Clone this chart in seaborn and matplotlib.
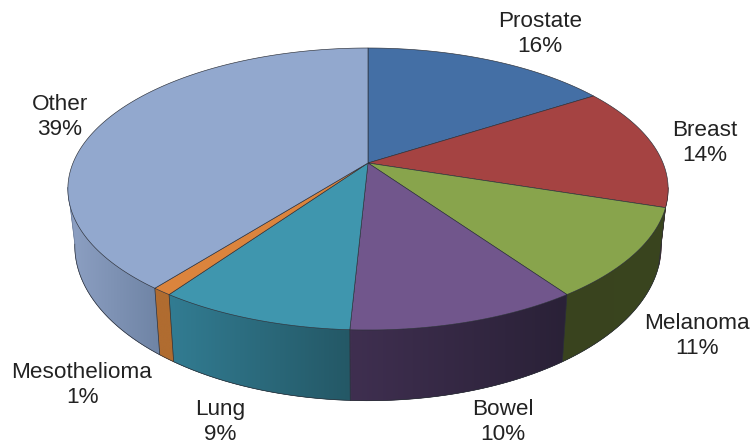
import numpy as np
import matplotlib
matplotlib.use("Agg")
import matplotlib.pyplot as plt
from matplotlib.patches import Polygon
import seaborn as sns

categories = ["Prostate", "Breast", "Melanoma", "Bowel", "Lung", "Mesothelioma", "Other"]
shares = [15.9, 14.1, 10.3, 10.5, 8.9, 0.9, 39.4]
pct_labels = ["16%", "14%", "11%", "10%", "9%", "1%", "39%"]
top_colors = ["#446FA5", "#A54342", "#88A44C", "#71568C", "#3F96AE", "#DB843D", "#92A8CE"]
wall_right = ["#3A5F8E", "#70302F", "#3A451F", "#2A2137", "#245866", "#B06C30", "#6F84A5"]
wall_left = ["#3A5F8E", "#70302F", "#39431E", "#3F2F50", "#327C92", "#B06C30", "#8DA0C3"]
label_x = [540, 705, 697, 503, 220, 82, 60]
label_y = [34, 143, 336, 422, 422, 385, 117]

sns.set_theme(style="white")
plt.rcParams["font.family"] = ["Liberation Sans", "DejaVu Sans"]

CX, CY, RX, RY, K = 368.0, 163.0, 295.0, 136.2, 0.1844
WALL_FROM, WALL_TO = np.deg2rad(100), np.deg2rad(260)


def project(theta, base=False):
    """Perspective view of a disc; theta runs clockwise from the far side."""
    x, y = np.sin(theta), np.cos(theta)
    w = 1 + K * y
    if base:
        return CX + 0.977 * RX * x / w, CY + 54 - 1.10 * RY * y / w
    return CX + RX * x / w, CY - RY * y / w


fig = plt.figure(figsize=(7.51, 4.46), dpi=100)
ax = fig.add_axes([0, 0, 1, 1])
ax.axis("off")

edges = np.deg2rad(np.cumsum([0] + shares) * 3.6)
edge_col = "#2b2f38"

# side wall: one horizontal colour ramp per slice, clipped to the visible wall
for i in range(len(shares)):
    lo, hi = max(edges[i], WALL_FROM), min(edges[i + 1], WALL_TO)
    if hi <= lo:
        continue
    t = np.linspace(lo, hi, 150)
    tx, ty = project(t)
    bx, by = project(t, base=True)
    xs = np.r_[tx, bx[::-1]]
    ys = np.r_[ty, by[::-1]]
    shape = Polygon(np.c_[xs, ys], closed=True, facecolor=wall_right[i],
                    edgecolor=wall_right[i], lw=0.3, zorder=2)
    ax.add_patch(shape)
    ramp = np.array(sns.blend_palette([wall_left[i], wall_right[i]], 64))[None, :, :]
    img = ax.imshow(ramp, extent=(xs.min(), xs.max(), ys.max(), ys.min()),
                    aspect="auto", interpolation="bilinear", zorder=2.1)
    img.set_clip_path(shape)

t = np.linspace(WALL_FROM, WALL_TO, 300)
bx, by = project(t, base=True)
ax.plot(bx, by, color=edge_col, lw=0.5, zorder=3)
tx, ty = project(WALL_TO)
bx, by = project(WALL_TO, base=True)
ax.plot([tx, bx], [ty, by], color="#6f7f9c", lw=0.5, zorder=3)
for e in edges[2:-1]:
    tx, ty = project(e)
    bx, by = project(e, base=True)
    ax.plot([tx, bx], [ty, by], color=edge_col, lw=0.5, zorder=3)

# top face
for i in range(len(shares)):
    t = np.linspace(edges[i], edges[i + 1], 120)
    tx, ty = project(t)
    ax.fill(np.r_[CX, tx], np.r_[CY, ty], facecolor=top_colors[i],
            edgecolor=edge_col, lw=0.45, joinstyle="round", zorder=4)

for name, pct, x, y in zip(categories, pct_labels, label_x, label_y):
    ax.text(x, y, f"{name}\n{pct}", ha="center", va="center", fontsize=16.2,
            color="#222222", linespacing=1.26, zorder=5)

ax.set_xlim(0, 751)
ax.set_ylim(446, 0)
fig.savefig("out.png", dpi=100)
